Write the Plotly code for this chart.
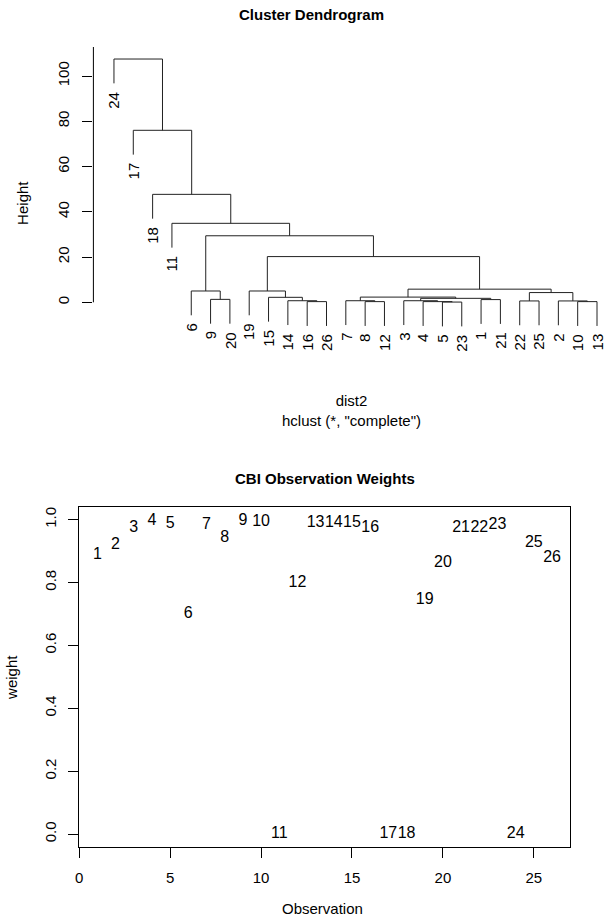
import plotly.graph_objects as go

# ---------------- data ----------------
# hclust merge table (R convention: negative = observation, positive = earlier merge)
merge_left = [-5, -16, -8, -4, -10, -22, -2, -14, -7, -3, -1, -9, 10, -15, 9, 6, -6, -19, 15, 18, 17, -11, -18, -17, -24]
merge_right = [-23, -26, -12, 1, -13, -25, 5, 2, 3, 4, -21, -20, 11, 8, 13, 7, 12, 14, 16, 19, 20, 21, 22, 23, 24]
merge_height = [0.1, 0.3, 0.3, 0.3, 0.3, 0.6, 0.6, 0.7, 0.7, 0.7, 1.2, 1.3, 1.75, 2.2, 2.3, 4.3, 5.0, 5.0, 5.8,
                20.2, 29.4, 34.9, 47.7, 76.0, 107.5]

observations = list(range(1, 27))
weights = [0.886, 0.92, 0.974, 0.995, 0.986, 0.70, 0.984, 0.942, 0.995, 0.993, 0.0, 0.797, 0.99,
           0.99, 0.99, 0.973, 0.0, 0.0, 0.744, 0.862, 0.973, 0.973, 0.984, 0.0, 0.925, 0.877]

height_ticks = [0, 20, 40, 60, 80, 100]
weight_ticks = [0.0, 0.2, 0.4, 0.6, 0.8, 1.0]
obs_ticks = [0, 5, 10, 15, 20, 25]

# ---------------- layout helpers ----------------
W, H = 605, 920
FONT = "Liberation Sans, Arial, Helvetica, sans-serif"
FS = 15


def fx(p):
    return p / W


def fy(p):
    return 1 - p / H


# ---------------- dendrogram geometry ----------------
hang = 0.1 * max(merge_height)
n_merge = len(merge_height)


def order_of(node):
    # node > 0 : merge index (1-based); node < 0 : observation
    if node < 0:
        return [-node]
    i = node - 1
    return order_of(merge_left[i]) + order_of(merge_right[i])


leaf_order = order_of(n_merge)
leaf_pos = {leaf: k + 1 for k, leaf in enumerate(leaf_order)}

node_x = {}
node_h = {}
xs, ys = [], []
leaf_labels = []


def child_xy(node, parent_h):
    if node < 0:
        x = leaf_pos[-node]
        leaf_labels.append((x, parent_h - hang, str(-node)))
        return x, parent_h - hang
    return node_x[node], node_h[node]


for i in range(n_merge):
    h = merge_height[i]
    xl, hl = child_xy(merge_left[i], h)
    xr, hr = child_xy(merge_right[i], h)
    xs += [xl, xl, xr, xr, None]
    ys += [hl, h, h, hr, None]
    node_x[i + 1] = (xl + xr) / 2
    node_h[i + 1] = h

# ---------------- figure ----------------
fig = go.Figure()

fig.add_trace(go.Scatter(x=xs, y=ys, mode="lines", line=dict(color="#222222", width=1),
                         hoverinfo="skip", showlegend=False, xaxis="x", yaxis="y"))

fig.add_trace(go.Scatter(x=observations, y=weights, mode="text", text=[str(o) for o in observations],
                         textposition="middle center", textfont=dict(family=FONT, size=16, color="black"),
                         showlegend=False, xaxis="x2", yaxis="y2"))

# top panel pixel calibration
zero_px, ppu = 302.3, 2.263
top_px, bot_px = 47, 380
y_top = (zero_px - top_px) / ppu
y_bot = (zero_px - bot_px) / ppu
leaf1_px, leaf_sp = 110.7, 19.45
x_left = 1 + (90 - leaf1_px) / leaf_sp
x_right = 1 + (605 - leaf1_px) / leaf_sp

axis_common = dict(showgrid=False, zeroline=False, ticks="outside", ticklen=10, tickcolor="black",
                   tickfont=dict(family=FONT, size=FS, color="black"))

fig.update_layout(
    width=W, height=H, margin=dict(l=0, r=0, t=0, b=0),
    paper_bgcolor="white", plot_bgcolor="white",
    font=dict(family=FONT, size=FS, color="black"),
    xaxis=dict(domain=[fx(90), 1.0], range=[x_left, x_right], visible=False),
    yaxis=dict(domain=[fy(bot_px), fy(top_px)], range=[y_bot, y_top], tickvals=height_ticks,
               ticktext=[str(t) for t in height_ticks], tickangle=-90, showline=False,
               ticklabelstandoff=7, **axis_common),
    xaxis2=dict(domain=[fx(75.7), fx(570)], range=[0, 27], tickvals=obs_ticks,
                ticktext=[str(t) for t in obs_ticks], showline=True, mirror=True, linecolor="black",
                linewidth=1, anchor="y2", ticklabelstandoff=7, **axis_common),
    yaxis2=dict(domain=[fy(846.7), fy(507)], range=[-0.04, 1.04], tickvals=weight_ticks,
                ticktext=["%.1f" % t for t in weight_ticks], tickangle=-90, showline=True, mirror=True,
                linecolor="black", linewidth=1, anchor="x2", ticklabelstandoff=6, **axis_common),
)

# dendrogram axis line (from 0 to top of plot region)
fig.add_shape(type="line", xref="x domain", yref="y", x0=0, x1=0, y0=0, y1=y_top,
              line=dict(color="black", width=1))

# leaf labels
for x, y, lab in leaf_labels:
    fig.add_annotation(x=x, y=y, xref="x", yref="y", text=lab, showarrow=False, textangle=-90,
                       xanchor="center", yanchor="top", yshift=-6,
                       font=dict(family=FONT, size=FS, color="black"))

texts = [
    ("<b>Cluster Dendrogram</b>", 310, 15, 0),
    ('dist2<br>hclust (*, "complete")', 350, 410, 0),
    ("Height", 18, 203, -90),
    ("<b>CBI Observation Weights</b>", 323, 478, 0),
    ("Observation", 321, 908, 0),
    ("weight", 7, 677, -90),
]
for t, px, py, ang in texts:
    fig.add_annotation(x=fx(px), y=fy(py), xref="paper", yref="paper", text=t, showarrow=False,
                       textangle=ang, xanchor="center", yanchor="middle",
                       font=dict(family=FONT, size=FS, color="black"))

fig.write_html("out.html")
